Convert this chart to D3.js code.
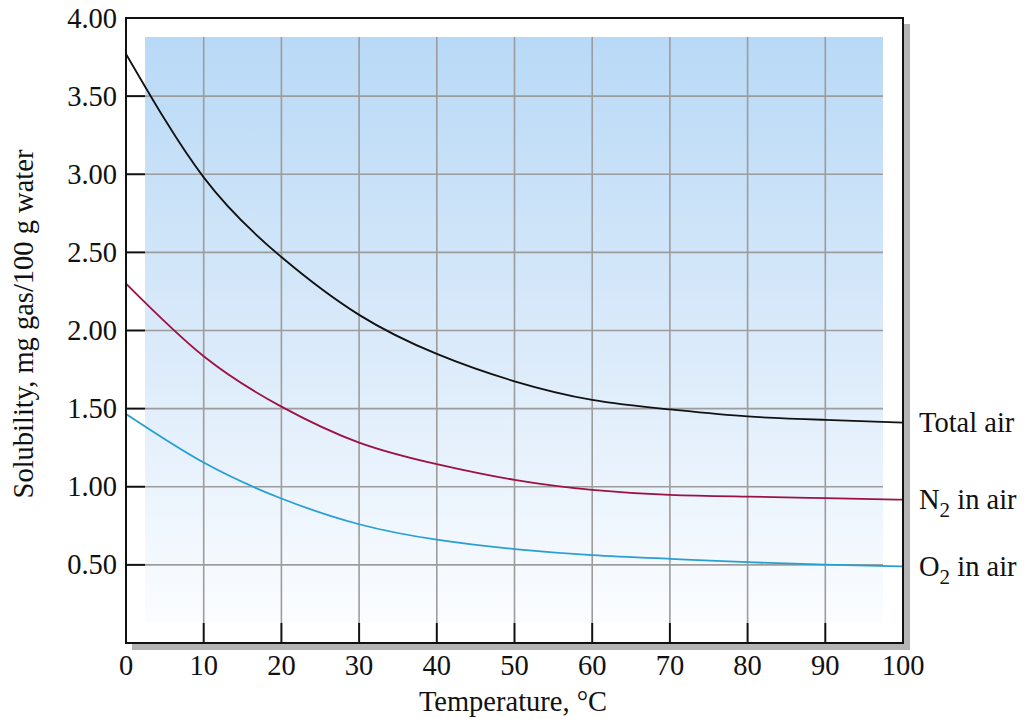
<!DOCTYPE html>
<html>
<head>
<meta charset="utf-8">
<script src="https://cdn.jsdelivr.net/npm/d3@7"></script>
<style>
    body { margin: 0; background: #fff; }
    text { font-family: 'Liberation Serif', 'Times New Roman', serif; fill: #111; }
</style>
</head>
<body>
<div id="chart"></div>
<script>
// values, every 10 degrees
const temps = [0, 10, 20, 30, 40, 50, 60, 70, 80, 90, 100];
const totalAir = [3.77, 2.98, 2.47, 2.10, 1.85, 1.675, 1.556, 1.495, 1.450, 1.428, 1.411];
const n2Air = [2.30, 1.835, 1.513, 1.283, 1.145, 1.044, 0.980, 0.948, 0.937, 0.927, 0.917];
const o2Air = [1.466, 1.155, 0.925, 0.760, 0.661, 0.601, 0.563, 0.539, 0.517, 0.501, 0.490];

const xTicks = [0, 10, 20, 30, 40, 50, 60, 70, 80, 90, 100];
const yTicks = [0.5, 1.0, 1.5, 2.0, 2.5, 3.0, 3.5, 4.0];

const series = [
    { name: 'Total air', sub: null, values: totalAir, color: '#111111' },
    { name: 'N', sub: '2', values: n2Air, color: '#9c1244' },
    { name: 'O', sub: '2', values: o2Air, color: '#279fd4' },
];

const width = 1024;
const height = 719;
const plotL = 126, plotR = 903, plotT = 18, plotB = 643;
const inset = 19;
const fontSize = 28.5;

const x = d3.scaleLinear().domain([0, 100]).range([plotL, plotR]);
const y = d3.scaleLinear().domain([0, 4]).range([plotB, plotT]);

const svg = d3.select('#chart')
    .append('svg')
    .attr('width', width)
    .attr('height', height);

const grad = svg.append('defs')
    .append('linearGradient')
    .attr('id', 'bg')
    .attr('x1', 0).attr('x2', 0)
    .attr('y1', 0).attr('y2', 1);
grad.append('stop').attr('offset', '0%').attr('stop-color', '#b8d9f6');
grad.append('stop').attr('offset', '55%').attr('stop-color', '#dcebfa');
grad.append('stop').attr('offset', '100%').attr('stop-color', '#fbfdff');

// drop shadow of the frame
svg.append('rect')
    .attr('x', plotL + 6).attr('y', plotT + 6)
    .attr('width', plotR - plotL + 1).attr('height', plotB - plotT + 1)
    .style('fill', '#b4b4b4');
svg.append('rect')
    .attr('x', plotL).attr('y', plotT)
    .attr('width', plotR - plotL).attr('height', plotB - plotT)
    .style('fill', '#fff');

// shaded area
const shadeL = plotL + inset, shadeR = plotR - 20, shadeT = plotT + inset, shadeB = plotB - 20;
svg.append('rect')
    .attr('x', shadeL).attr('y', shadeT)
    .attr('width', shadeR - shadeL).attr('height', shadeB - shadeT)
    .style('fill', 'url(#bg)');

// grid
svg.selectAll('.hgrid')
    .data(yTicks.filter((d) => d < 4))
    .enter()
    .append('line')
    .attr('x1', shadeL).attr('x2', shadeR)
    .attr('y1', (d) => y(d)).attr('y2', (d) => y(d))
    .style('stroke', '#9c9c9c')
    .style('stroke-width', 1.6);

svg.selectAll('.vgrid')
    .data(xTicks.filter((d) => d > 0 && d < 100))
    .enter()
    .append('line')
    .attr('x1', (d) => x(d)).attr('x2', (d) => x(d))
    .attr('y1', shadeT).attr('y2', shadeB)
    .style('stroke', '#9c9c9c')
    .style('stroke-width', 1.6);

// ticks
svg.selectAll('.ytick')
    .data(yTicks.filter((d) => d < 4))
    .enter()
    .append('line')
    .attr('x1', plotL).attr('x2', shadeL)
    .attr('y1', (d) => y(d)).attr('y2', (d) => y(d))
    .style('stroke', '#111')
    .style('stroke-width', 2);

svg.selectAll('.xtick')
    .data(xTicks.filter((d) => d > 0 && d < 100))
    .enter()
    .append('line')
    .attr('x1', (d) => x(d)).attr('x2', (d) => x(d))
    .attr('y1', shadeB).attr('y2', plotB)
    .style('stroke', '#111')
    .style('stroke-width', 2);

// curves
const line = d3.line()
    .x((d) => x(d[0]))
    .y((d) => y(d[1]))
    .curve(d3.curveNatural);

series.forEach((s) => {
    svg.append('path')
        .datum(temps.map((t, i) => [t, s.values[i]]))
        .attr('d', line)
        .style('fill', 'none')
        .style('stroke', s.color)
        .style('stroke-width', 1.8);
});

// frame
svg.append('rect')
    .attr('x', plotL).attr('y', plotT)
    .attr('width', plotR - plotL).attr('height', plotB - plotT)
    .style('fill', 'none')
    .style('stroke', '#111')
    .style('stroke-width', 2);

// tick labels
svg.selectAll('.ylab')
    .data(yTicks)
    .enter()
    .append('text')
    .attr('x', plotL - 9)
    .attr('y', (d) => y(d) + 9.5)
    .attr('text-anchor', 'end')
    .style('font-size', fontSize + 'px')
    .text((d) => d3.format('.2f')(d));

svg.selectAll('.xlab')
    .data(xTicks)
    .enter()
    .append('text')
    .attr('x', (d) => x(d))
    .attr('y', 675)
    .attr('text-anchor', 'middle')
    .style('font-size', fontSize + 'px')
    .text((d) => d);

// series labels at line ends
series.forEach((s) => {
    const last = s.values[s.values.length - 1];
    const t = svg.append('text')
        .attr('x', 919)
        .attr('y', y(last) + 9.5)
        .style('font-size', fontSize + 'px');
    if (s.sub) {
        t.append('tspan').text(s.name);
        t.append('tspan').attr('dy', 8).style('font-size', '21px').text(s.sub);
        t.append('tspan').attr('dy', -8).text(' in air');
    } else {
        t.text(s.name);
    }
});

// axis titles
svg.append('text')
    .attr('x', 513)
    .attr('y', 711)
    .attr('text-anchor', 'middle')
    .style('font-size', fontSize + 'px')
    .text('Temperature, °C');

svg.append('text')
    .attr('transform', 'translate(33,' + 324 + ') rotate(-90)')
    .attr('text-anchor', 'middle')
    .style('font-size', fontSize + 'px')
    .text('Solubility, mg gas/100 g water');
</script>
</body>
</html>
